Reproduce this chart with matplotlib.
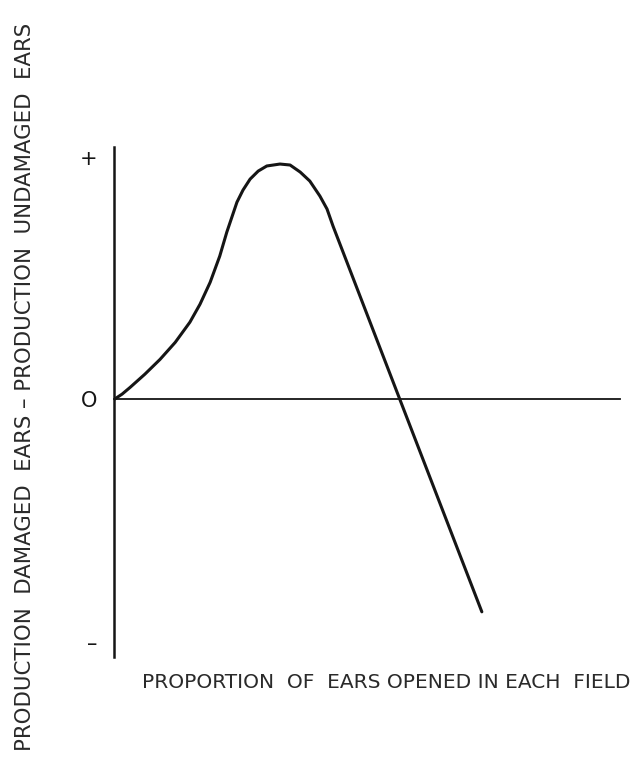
from matplotlib import pyplot as plt

# curve (x: proportion opened, y: relative gain)
prop_opened = [0.0, 0.016, 0.032, 0.061, 0.091, 0.121, 0.150, 0.170, 0.190,
               0.209, 0.223, 0.243, 0.255, 0.269, 0.285, 0.302, 0.328, 0.348,
               0.368, 0.387, 0.407, 0.421, 0.433, 0.565, 0.727]
prod_diff = [0.0, 0.022, 0.050, 0.104, 0.165, 0.235, 0.318, 0.392, 0.482,
             0.590, 0.689, 0.812, 0.862, 0.907, 0.940, 0.961, 0.969, 0.965,
             0.936, 0.899, 0.837, 0.784, 0.713, 0.0, -0.874]

tick_vals = [1, 0, -1]
tick_labels = ['+', 'O', '\u2013']

xlabel = 'PROPORTION  OF  EARS OPENED IN EACH  FIELD'
ylabel = 'PRODUCTION  DAMAGED  EARS \u2013 PRODUCTION  UNDAMAGED  EARS'

ink = '#151515'

fig = plt.figure(figsize=(6.44, 7.67), dpi=100)
ax = fig.add_axes([0.177, 0.1434, 0.7857, 0.6649])

ax.plot(prop_opened, prod_diff, color=ink, lw=2.2, solid_capstyle='round')

ax.set_xlim(0, 1)
ax.set_ylim(-1.06, 1.039)
ax.spines['top'].set_visible(False)
ax.spines['right'].set_visible(False)
ax.spines['bottom'].set_position(('data', 0))
ax.spines['left'].set_linewidth(1.8)
ax.spines['bottom'].set_linewidth(1.3)
ax.spines['left'].set_color(ink)
ax.spines['bottom'].set_color(ink)

ax.set_xticks([])
ax.set_yticks(tick_vals)
ax.set_yticklabels(tick_labels, fontsize=15, color=ink)
ax.tick_params(axis='y', length=0, pad=12)

fig.text(0.600, 0.110, xlabel, ha='center', va='center', fontsize=14.5,
         color='#2a2a2a')
fig.text(0.039, 0.4954, ylabel, ha='center', va='center', rotation=90,
         fontsize=15.3, color='#2a2a2a')

plt.savefig('out.png', dpi=100)
